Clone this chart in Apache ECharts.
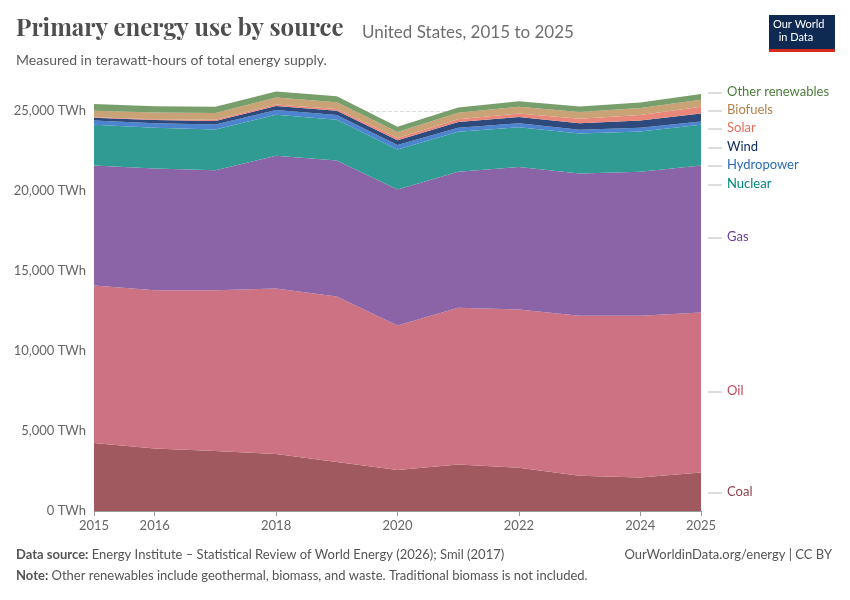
<!DOCTYPE html>
<html>
<head>
<meta charset="utf-8">
<script src="https://cdn.jsdelivr.net/npm/echarts@6/dist/echarts.min.js"></script>
<style>
  html, body { margin: 0; padding: 0; background: #fff; }
  #chart { width: 850px; height: 600px; }
</style>
</head>
<body>
<div id="chart"></div>
<script>
(function () {
    'use strict';
    // data (TWh)
    var years = ['2015', '2016', '2017', '2018', '2019', '2020', '2021', '2022', '2023', '2024', '2025'];
    var coal = [4250, 3900, 3750, 3560, 3060, 2560, 2900, 2700, 2200, 2100, 2400];
    var oil = [9850, 9900, 10050, 10340, 10340, 9040, 9800, 9900, 10000, 10100, 10000];
    var gas = [7500, 7600, 7500, 8300, 8500, 8500, 8500, 8900, 8900, 9000, 9200];
    var nuclear = [2540, 2550, 2550, 2560, 2560, 2500, 2500, 2480, 2500, 2520, 2540];
    var hydro = [270, 280, 310, 300, 290, 270, 260, 250, 230, 240, 200];
    var wind = [170, 200, 220, 250, 260, 300, 350, 400, 410, 450, 500];
    var solar = [30, 50, 70, 90, 110, 140, 180, 220, 270, 340, 420];
    var biofuels = [400, 420, 420, 440, 430, 370, 400, 420, 430, 440, 440];
    var otherRenewables = [420, 400, 400, 380, 370, 330, 330, 340, 340, 340, 360];
    var shownYears = ['2015', '2016', '2018', '2020', '2022', '2024', '2025'];

    var layers = [
        { name: 'Coal', data: coal, color: '#a0595e', text: '#8c3f4a', y: 493 },
        { name: 'Oil', data: oil, color: '#cd7282', text: '#c2485f', y: 392 },
        { name: 'Gas', data: gas, color: '#8b64a7', text: '#6d3e91', y: 238 },
        { name: 'Nuclear', data: nuclear, color: '#2f9b93', text: '#00847e', y: 185 },
        { name: 'Hydropower', data: hydro, color: '#4c84cf', text: '#286bbb', y: 166 },
        { name: 'Wind', data: wind, color: '#2e4a7c', text: '#0b2a5e', y: 148 },
        { name: 'Solar', data: solar, color: '#e9877a', text: '#e56e5a', y: 129 },
        { name: 'Biofuels', data: biofuels, color: '#c9a276', text: '#b6804a', y: 111 },
        { name: 'Other renewables', data: otherRenewables, color: '#789e6c', text: '#4c7d3c', y: 93 }
    ];

    var myChart = echarts.init(document.getElementById('chart'));
    var font = 'Lato, "Noto Sans", sans-serif';

    var series = layers.map(function (l) {
        return {
            name: l.name,
            type: 'line',
            stack: 'total',
            symbol: 'none',
            lineStyle: { width: 0 },
            areaStyle: { color: l.color, opacity: 1 },
            data: l.data
        };
    });

    var graphics = [
        { type: 'text', left: 16, top: 17, style: { text: 'Primary energy use by source', font: 'bold 24px "Playfair Display", "DejaVu Serif", serif', fill: '#4e4e4e' } },
        { type: 'text', left: 362, top: 24, style: { text: 'United States, 2015 to 2025', font: '17px ' + font, fill: '#6e6e6e' } },
        { type: 'text', left: 16, top: 53, style: { text: 'Measured in terawatt-hours of total energy supply.', font: '14px ' + font, fill: '#5b5b5b' } },
        { type: 'rect', shape: { x: 769, y: 15, width: 66, height: 37 }, style: { fill: '#0f2a52' } },
        { type: 'rect', shape: { x: 769, y: 49, width: 66, height: 3 }, style: { fill: '#d42b21' } },
        { type: 'text', left: 773, top: 18, style: { text: 'Our World\n  in Data', font: '11px ' + font, fill: '#fff', lineHeight: 13 } },
        { type: 'text', left: 16, top: 548, style: { rich: { b: { font: 'bold 13px ' + font, fill: '#555' }, n: { font: '13px ' + font, fill: '#555' } }, text: '{b|Data source:} {n|Energy Institute – Statistical Review of World Energy (2026); Smil (2017)}' } },
        { type: 'text', right: 18, top: 548, style: { text: 'OurWorldinData.org/energy | CC BY', font: '13px ' + font, fill: '#555' } },
        { type: 'text', left: 16, top: 569, style: { rich: { b: { font: 'bold 13px ' + font, fill: '#555' }, n: { font: '13px ' + font, fill: '#555' } }, text: '{b|Note:} {n|Other renewables include geothermal, biomass, and waste. Traditional biomass is not included.}' } }
    ];
    layers.forEach(function (l) {
        graphics.push({ type: 'text', left: 727, top: l.y - 8, style: { text: l.name, font: '13px ' + font, fill: l.text } });
        graphics.push({ type: 'line', shape: { x1: 708, y1: l.y, x2: 722, y2: l.y }, style: { stroke: '#bbb', lineWidth: 1 } });
    });

    var option = {
        animation: false,
        grid: { left: 94, right: 149, top: 79, bottom: 89 },
        xAxis: {
            type: 'category',
            data: years,
            boundaryGap: false,
            axisLine: { lineStyle: { color: '#999' } },
            axisTick: { show: true, interval: function (i, v) { return shownYears.indexOf(v) >= 0; }, lineStyle: { color: '#999' } },
            axisLabel: {
                interval: function (i, v) { return shownYears.indexOf(v) >= 0; },
                color: '#666', fontSize: 13, fontFamily: font
            }
        },
        yAxis: {
            type: 'value',
            min: 0,
            max: 27000,
            interval: 5000,
            axisLabel: {
                showMaxLabel: false,
                color: '#666', fontSize: 13, fontFamily: font,
                formatter: function (v) { return (v === 0 ? '0' : v.toLocaleString('en-US')) + ' TWh'; }
            },
            splitLine: { showMaxLine: false, lineStyle: { color: '#ddd', type: 'dashed' } },
            axisLine: { show: false },
            axisTick: { show: false }
        },
        series: series,
        graphic: graphics
    };

    myChart.setOption(option);
    window.addEventListener('resize', function () {
        myChart.resize();
    });
})();
</script>
</body>
</html>
